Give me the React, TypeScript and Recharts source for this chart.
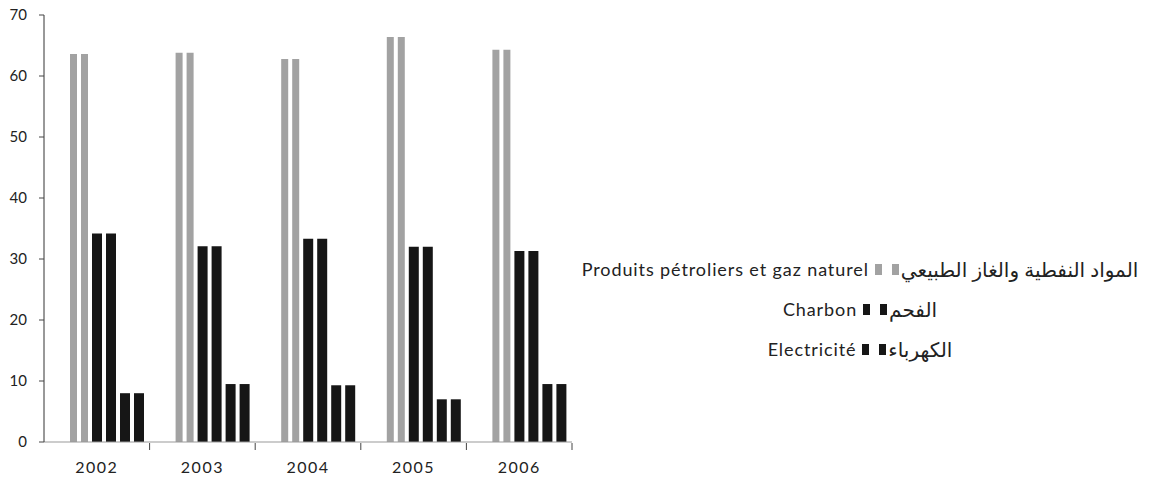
import React from "react"
import { BarChart, Bar, XAxis, YAxis, Legend, Rectangle } from "recharts"

const years = ["2002", "2003", "2004", "2005", "2006"]
const petrole = [63.6, 63.8, 62.8, 66.4, 64.3]
const charbon = [34.2, 32.1, 33.3, 32.0, 31.3]
const electricite = [8.0, 9.5, 9.3, 7.0, 9.5]
const yTicks = [0, 10, 20, 30, 40, 50, 60, 70]

const GREY = "#a2a2a2"
const DARK = "#161616"
const FONT = "Lato, 'DejaVu Sans', sans-serif"

const W = 1169
const H = 479
const X_H = 30
const MARGIN = { top: 15, right: 597, bottom: 37 - X_H, left: 0 }
const Y_W = 44
const PLOT_W = W - MARGIN.left - MARGIN.right - Y_W
const BAND = PLOT_W / years.length
const SHIFT = 10

const data = years.map((y, i) => ({
  year: y,
  petroleFr: petrole[i],
  petroleAr: petrole[i],
  charbonFr: charbon[i],
  charbonAr: charbon[i],
  elecFr: electricite[i],
  elecAr: electricite[i],
}))

const series = [
  { key: "petroleFr", name: "Produits pétroliers et gaz naturel", color: GREY, size: 7 },
  { key: "petroleAr", name: "المواد النفطية والغاز الطبيعي", color: GREY, size: 7 },
  { key: "charbonFr", name: "Charbon", color: DARK, size: 10 },
  { key: "charbonAr", name: "الفحم", color: DARK, size: 10 },
  { key: "elecFr", name: "Electricité", color: DARK, size: 10 },
  { key: "elecAr", name: "الكهرباء", color: DARK, size: 10 },
]

// legend rows: french label, arabic label
const legendPairs = [
  ["petroleFr", "petroleAr"],
  ["charbonFr", "charbonAr"],
  ["elecFr", "elecAr"],
]

const ShiftedBar = (props: any) => <Rectangle {...props} x={props.x + SHIFT} />

const YearTick = (props: any) => {
  const { x, y, payload } = props
  return (
    <g>
      <text x={x} y={y + 23} textAnchor="middle" fontSize={16} letterSpacing={1.5} fill="#222" fontFamily={FONT}>
        {payload.value}
      </text>
      <line x1={x + BAND / 2} x2={x + BAND / 2} y1={y - 7} y2={y} stroke="#444" />
    </g>
  )
}

const LegendRows = ({ payload }: any) => {
  const items = payload || []
  const find = (k: string) => items.find((it: any) => it.dataKey === k)
  return (
    <div style={{ fontFamily: FONT, color: "#222" }}>
      {legendPairs.map(([a, b], i) => {
        const fr = find(a)
        const ar = find(b)
        if (!fr || !ar) return null
        return (
          <div key={i} style={{ display: "flex", justifyContent: "center", alignItems: "center", height: 40 }}>
            <span style={{ fontSize: 18, letterSpacing: 0.9 }}>{fr.value}</span>
            <span style={{ display: "inline-block", width: 7, height: 11, background: fr.color, marginLeft: 6 }} />
            <span style={{ display: "inline-block", width: 7, height: 11, background: ar.color, marginLeft: 10 }} />
            <span dir="rtl" style={{ marginLeft: 2, fontSize: 20 }}>{ar.value}</span>
          </div>
        )
      })}
    </div>
  )
}

export default function App() {
  return (
    <div style={{ position: "absolute", left: 0, top: 0, background: "#fff" }}>
      <BarChart width={W} height={H} data={data} margin={MARGIN} barGap={4} barCategoryGap={0}>
        <XAxis
          dataKey="year"
          height={X_H}
          tick={<YearTick />}
          tickLine={false}
          axisLine={{ stroke: "#999" }}
          interval={0}
        />
        <YAxis
          width={Y_W}
          domain={[0, 70]}
          ticks={yTicks}
          tickSize={5}
          tickMargin={12}
          tickLine={{ stroke: "#444" }}
          axisLine={{ stroke: "#333" }}
          tick={{ fontSize: 15, fill: "#222", fontFamily: FONT }}
        />
        <Legend
          layout="vertical"
          align="center"
          verticalAlign="middle"
          content={<LegendRows />}
          wrapperStyle={{ position: "absolute", left: 550, top: 249, width: 620 }}
        />
        {series.map((s) => (
          <Bar
            key={s.key}
            dataKey={s.key}
            name={s.name}
            fill={s.color}
            barSize={s.size}
            shape={<ShiftedBar />}
            isAnimationActive={false}
          />
        ))}
      </BarChart>
    </div>
  )
}
